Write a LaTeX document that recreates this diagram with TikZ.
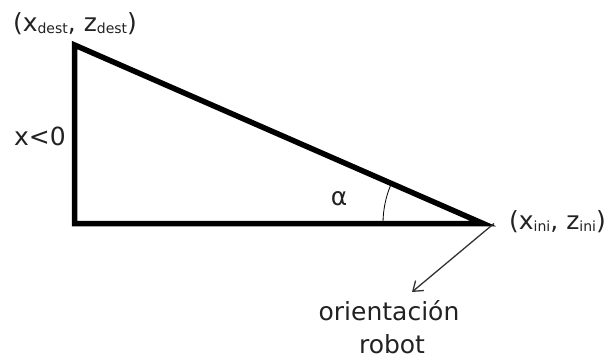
\documentclass[tikz,border=0pt]{standalone}
\usepackage{fontspec}
\setmainfont{DejaVu Sans}
\usepackage{xcolor}
\definecolor{inkgray}{HTML}{222222}
\definecolor{arrowgray}{HTML}{333333}
\usepackage{tikz}
\usetikzlibrary{positioning,arrows.meta}
\newcommand{\lowsub}[1]{\raisebox{-0.1em}{\fontsize{14}{14}\selectfont #1}}

\begin{document}
\begin{tikzpicture}[x=1pt, y=1pt,
  lbl/.style={font=\fontsize{25}{30}\selectfont, text=inkgray, inner sep=0pt, anchor=base},
  side/.style={line width=5.5pt, line join=miter}]
  \useasboundingbox (0,0) rectangle (608,360);
  \coordinate (dest) at (74.5,315);
  \coordinate (corner) at (74.5,136.5);
  \coordinate (ini) at (483,136.5);
  \coordinate (initip) at (494,136.5);
  \coordinate (tip) at (412,68);
  \draw[side] (dest) -- (corner) -- (ini) -- cycle;
  \draw[line width=0.8pt] ([shift={(180:100)}]ini) arc[start angle=180, end angle=156.4, radius=100];
  \node[lbl] (destlbl) at (75,329) {(x\lowsub{dest}, z\lowsub{dest})};
  \node[lbl, anchor=base west] (xlbl) at (14,215) {x<0};
  \node[lbl] (alpha) at (339,155) {α};
  \node[lbl, anchor=base east] (inilbl) at (606,131) {(x\lowsub{ini}, z\lowsub{ini})};
  \node[lbl] (orient) at (389,40) {orientación};
  \node[lbl] (robot) at (392,7) {robot};
  \draw[-{Straight Barb[length=9pt, width=13pt]}, line width=1.3pt, draw=arrowgray] (initip) -- (tip);
\end{tikzpicture}
\end{document}
